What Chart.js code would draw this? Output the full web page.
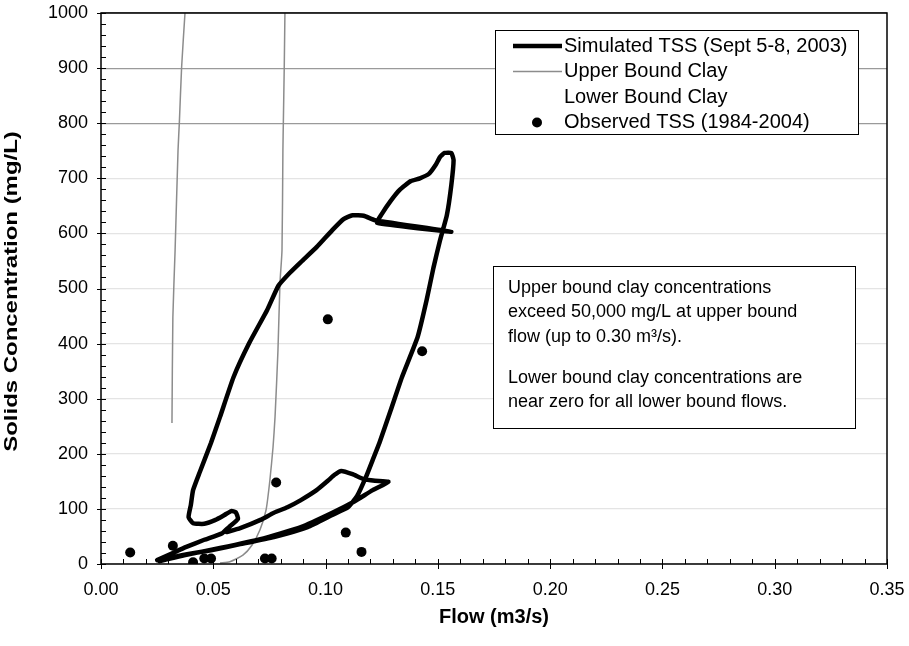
<!DOCTYPE html>
<html lang="en">
<head>
  <meta charset="UTF-8">
  <title>Solids Concentration vs Flow</title>
  <style>
    body { margin: 0; background: #fff; }
    canvas { display: block; }
  </style>
</head>
<body>
  <canvas id="tssChart" width="909" height="646"></canvas>

  <script src="https://cdn.jsdelivr.net/npm/chart.js"></script>
  <script>
    // Simulated TSS hysteresis loop (Sept 5-8, 2003)
    const simFlow = [0.025, 0.032, 0.038, 0.046, 0.054, 0.057, 0.061, 0.060, 0.058, 0.055, 0.051, 0.046, 0.041, 0.039,
      0.040, 0.041, 0.044, 0.049, 0.053, 0.059, 0.066, 0.074, 0.079, 0.084, 0.089, 0.096, 0.103, 0.108, 0.112, 0.117, 0.122,
      0.156, 0.123,
      0.125, 0.129, 0.133, 0.138, 0.142, 0.146, 0.149, 0.151, 0.153, 0.156, 0.157,
      0.156, 0.154, 0.151, 0.148, 0.145, 0.141, 0.134, 0.129, 0.124, 0.121, 0.118, 0.114, 0.110,
      0.103, 0.092, 0.077, 0.062, 0.049, 0.035, 0.026,
      0.037, 0.053, 0.071, 0.089, 0.103, 0.113, 0.121, 0.128,
      0.122, 0.117, 0.112, 0.107, 0.104, 0.101, 0.096, 0.089, 0.083, 0.077, 0.071, 0.062, 0.056];
    const simTss = [7, 20, 31, 44, 56, 67, 82, 94, 96, 89, 80, 73, 74, 85,
      107, 134, 167, 220, 267, 339, 401, 461, 505, 528, 548, 575, 606, 626, 633, 632, 624,
      603, 619,
      635, 659, 679, 695, 700, 708, 724, 739, 746, 746, 733,
      688, 633, 588, 537, 479, 412, 339, 279, 220, 189, 158, 123, 103,
      89, 67, 49, 36, 25, 15, 5,
      16, 29, 45, 67, 93, 114, 134, 149,
      151, 154, 163, 169, 162, 151, 134, 116, 103, 93, 80, 65, 58];

    // Upper bound clay: two branches, null marks the break between them
    const upperFlow = [0.0374, 0.0359, 0.0349, 0.0343, 0.0330, 0.0320, 0.0316, null,
      0.0819, 0.0816, 0.0812, 0.0810, 0.0806, 0.0797, 0.0788, 0.0775, 0.0766, 0.0752, 0.0735, 0.0708, 0.0672, 0.0632, 0.0574, 0.0530];
    const upperClay = [1000, 902, 802, 751, 570, 448, 256, null,
      1000, 902, 802, 751, 570, 510, 388, 267, 212, 152, 98, 62, 34, 16, 4, 2];

    // Lower bound clay stays near zero
    const lowerFlow = [0.03, 0.06, 0.09, 0.13];
    const lowerClay = [1, 1, 1, 1];

    // Observed TSS (1984-2004)
    const obsFlow = [0.013, 0.032, 0.041, 0.046, 0.049, 0.073, 0.076, 0.078, 0.101, 0.109, 0.116, 0.143];
    const obsTss = [21, 33, 3, 10, 10, 10, 10, 148, 444, 57, 22, 386];

    const xTicks = [0, 0.05, 0.10, 0.15, 0.20, 0.25, 0.30, 0.35];
    const yTicks = [0, 100, 200, 300, 400, 500, 600, 700, 800, 900, 1000];

    const yTitle = 'Solids Concentration (mg/L)';
    const noteLines = [
      'Upper bound clay concentrations',
      'exceed 50,000 mg/L at upper bound',
      'flow (up to 0.30 m\u00b3/s).',
      '',
      'Lower bound clay concentrations are',
      'near zero for all lower bound flows.'
    ];

    const toPoints = (xs, ys) => xs.map((v, i) => ({ x: v, y: ys[i] }));
    const FONT = "'Liberation Sans', Arial, sans-serif";

    // frame, inside tick marks, stretched y title, legend box and note box
    const decorations = {
      id: 'decorations',
      afterDraw(chart) {
        const { ctx, chartArea: a, scales: { x, y } } = chart;
        ctx.save();

        ctx.strokeStyle = '#000';
        ctx.lineWidth = 1.5;
        ctx.strokeRect(a.left, a.top, a.right - a.left, a.bottom - a.top);

        ctx.lineWidth = 1;
        ctx.beginPath();
        for (let v = 0; v <= 1000; v += 20) {
          const py = Math.round(y.getPixelForValue(v)) + 0.5;
          ctx.moveTo(a.left - (v % 100 === 0 ? 4 : 0), py);
          ctx.lineTo(a.left + 5, py);
        }
        for (let i = 0; i <= 35; i++) {
          const px = Math.round(x.getPixelForValue(i / 100)) + 0.5;
          ctx.moveTo(px, a.bottom + (i % 5 === 0 ? 5 : 0));
          ctx.lineTo(px, a.bottom - 5);
        }
        ctx.stroke();

        // y title, drawn long and narrow like the scanned original
        ctx.save();
        ctx.translate(12, (a.top + a.bottom) / 2 + 3);
        ctx.rotate(-Math.PI / 2);
        ctx.scale(1.33, 1);
        ctx.fillStyle = '#000';
        ctx.font = 'bold 18px ' + FONT;
        ctx.textAlign = 'center';
        ctx.textBaseline = 'middle';
        ctx.fillText(yTitle, 0, 0);
        ctx.restore();

        // legend
        const lx = 495, ly = 30, lw = 363, lh = 104;
        ctx.fillStyle = '#fff';
        ctx.fillRect(lx, ly, lw, lh);
        ctx.lineWidth = 1;
        ctx.strokeRect(lx + 0.5, ly + 0.5, lw, lh);
        ctx.font = '20px ' + FONT;
        ctx.textBaseline = 'middle';
        chart.data.datasets.forEach((ds, i) => {
          const rowY = 46 + i * 25.5;
          if (ds.showLine) {
            ctx.strokeStyle = ds.borderColor;
            ctx.lineWidth = ds.borderWidth;
            ctx.beginPath();
            ctx.moveTo(513, rowY);
            ctx.lineTo(562, rowY);
            ctx.stroke();
          } else {
            ctx.fillStyle = ds.backgroundColor;
            ctx.beginPath();
            ctx.arc(537, rowY, ds.pointRadius, 0, Math.PI * 2);
            ctx.fill();
          }
          ctx.fillStyle = '#000';
          ctx.fillText(ds.label, 564, rowY);
        });

        // note box
        const nx = 493, ny = 266, nw = 362, nh = 162;
        ctx.fillStyle = '#fff';
        ctx.fillRect(nx, ny, nw, nh);
        ctx.strokeStyle = '#000';
        ctx.lineWidth = 1;
        ctx.strokeRect(nx + 0.5, ny + 0.5, nw, nh);
        ctx.fillStyle = '#000';
        ctx.font = '18px ' + FONT;
        ctx.textBaseline = 'alphabetic';
        const baselines = [293, 317, 342, 0, 383, 407];
        noteLines.forEach((t, i) => { if (t) ctx.fillText(t, 508, baselines[i]); });

        ctx.restore();
      }
    };

    new Chart(document.getElementById('tssChart'), {
      type: 'scatter',
      data: {
        datasets: [
          {
            label: 'Simulated TSS (Sept 5-8, 2003)',
            data: toPoints(simFlow, simTss),
            showLine: true,
            borderColor: '#000',
            borderWidth: 4.5,
            borderJoinStyle: 'round',
            borderCapStyle: 'round',
            tension: 0.15,
            pointRadius: 0
          },
          {
            label: 'Upper Bound Clay',
            data: toPoints(upperFlow, upperClay),
            showLine: true,
            spanGaps: false,
            borderColor: '#8c8c8c',
            borderWidth: 1.5,
            tension: 0.2,
            pointRadius: 0
          },
          {
            label: 'Lower Bound Clay',
            data: toPoints(lowerFlow, lowerClay),
            showLine: true,
            borderColor: '#ffffff',
            borderWidth: 1,
            pointRadius: 0,
            order: 10
          },
          {
            label: 'Observed TSS (1984-2004)',
            data: toPoints(obsFlow, obsTss),
            showLine: false,
            backgroundColor: '#000',
            borderColor: '#000',
            pointRadius: 5,
            pointBorderWidth: 0
          }
        ]
      },
      options: {
        responsive: false,
        animation: false,
        devicePixelRatio: 1,
        layout: { padding: { left: 0, right: 22, top: 13, bottom: 0 } },
        plugins: { legend: { display: false }, tooltip: { enabled: false } },
        scales: {
          x: {
            type: 'linear',
            min: 0,
            max: 0.35,
            afterFit: s => { s.height = 82; s.paddingLeft = 0; s.paddingRight = 0; },
            afterBuildTicks: s => { s.ticks = xTicks.map(v => ({ value: v })); },
            ticks: {
              color: '#000',
              padding: 15,
              maxRotation: 0,
              autoSkip: false,
              font: { family: FONT, size: 18 },
              callback: v => v.toFixed(2)
            },
            grid: { drawOnChartArea: false, drawTicks: false },
            border: { display: false },
            title: {
              display: true,
              text: 'Flow (m3/s)',
              color: '#000',
              font: { family: FONT, size: 20, weight: 'bold' },
              padding: { top: 0, bottom: 17 }
            }
          },
          y: {
            min: 0,
            max: 1000,
            afterFit: s => { s.width = 101; s.paddingTop = 0; s.paddingBottom = 0; },
            afterBuildTicks: s => { s.ticks = yTicks.map(v => ({ value: v })); },
            ticks: {
              color: '#000',
              padding: 13,
              font: { family: FONT, size: 18 },
              callback: v => String(v)
            },
            grid: {
              drawTicks: false,
              lineWidth: 1.2,
              color: c => (c.tick && c.tick.value >= 800 ? '#9a9a9a' : '#e4e4e4')
            },
            border: { display: false },
            title: { display: false }
          }
        }
      },
      plugins: [decorations]
    });
  </script>
</body>
</html>
